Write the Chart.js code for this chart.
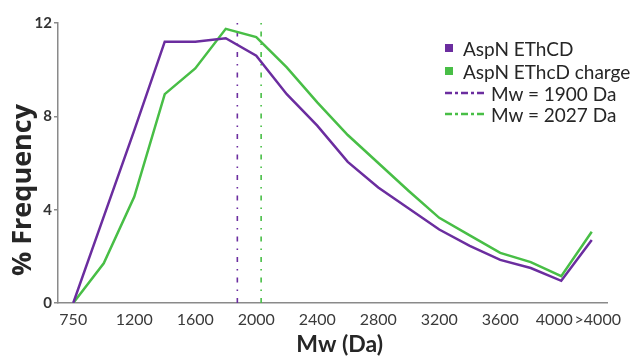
<!DOCTYPE html>
<html>
<head>
<meta charset="utf-8">
<script src="https://cdn.jsdelivr.net/npm/chart.js@4/dist/chart.umd.min.js"></script>
<style>
  body { margin: 0; background: #fff; }
  #wrap { position: relative; width: 636px; height: 358px; }
  #legend { position: absolute; left: 0; top: 0; font-family: Lato, sans-serif; font-size: 19px; color: #262626; }
  .row { position: absolute; white-space: nowrap; display: flex; align-items: center; height: 22px; }
  .sq { width: 8px; height: 8px; display: inline-block; margin-right: 10px; }
</style>
</head>
<body>
<div id="wrap">
  <canvas id="chart" width="636" height="358"></canvas>
  <div id="legend"></div>
</div>
<script>
const CATEGORIES = ['750','1000','1200','1400','1600','1800','2000','2200','2400','2600','2800','3000','3200','3400','3600','3800','4000','>4000'];
const ETHCD = [0, 3.7, 7.4, 11.2, 11.2, 11.35, 10.6, 8.95, 7.6, 6.05, 4.95, 4.05, 3.15, 2.45, 1.85, 1.5, 0.95, 2.7];
const ETHCD_CHARGE = [0, 1.7, 4.55, 8.95, 10.05, 11.75, 11.4, 10.1, 8.6, 7.2, 6.0, 4.8, 3.65, 2.9, 2.15, 1.75, 1.15, 3.05];
const SERIES_NAMES = ['AspN EThCD', 'AspN EThcD charge'];
const MW_VALUES = [1900, 2027];
// where the Mw lines sit, in category-index units
const MW_POS = [5.38, 6.16];
const Y_TICKS = [0, 4, 8, 12];

const PURPLE = '#6b2d9f';
const GREEN = '#48be46';
const FONT = 'Lato, sans-serif';

function vline(pos, color) {
  return {
    type: 'line', xAxisID: 'xv',
    data: [{ x: pos, y: 0 }, { x: pos, y: 12.26 }],
    borderColor: color, borderWidth: 1.6, borderDash: [5, 7, 1.5, 7],
    pointRadius: 0, clip: false, order: 3,
  };
}

new Chart(document.getElementById('chart'), {
  type: 'line',
  data: {
    labels: CATEGORIES,
    datasets: [
      vline(MW_POS[0], PURPLE),
      vline(MW_POS[1], GREEN),
      { label: SERIES_NAMES[1], data: ETHCD_CHARGE, borderColor: GREEN, borderWidth: 2.5, pointRadius: 0, tension: 0, order: 2 },
      { label: SERIES_NAMES[0], data: ETHCD, borderColor: PURPLE, borderWidth: 2.5, pointRadius: 0, tension: 0, order: 1 },
    ],
  },
  options: {
    responsive: false,
    animation: false,
    layout: { padding: { top: 23, right: 29, bottom: 0, left: 0 } },
    plugins: { legend: { display: false }, tooltip: { enabled: false } },
    scales: {
      x: {
        type: 'category',
        offset: true,
        grid: { display: false, drawTicks: false },
        border: { color: '#8a8a8a', width: 1.5 },
        ticks: {
          autoSkip: false, maxRotation: 0, padding: 7,
          color: '#3a3a3a', font: { family: FONT, size: 16 },
          callback: (v, i) => {
            if (i === CATEGORIES.length - 1) return '\u2003' + CATEGORIES[i];
            if (i === CATEGORIES.length - 2) return CATEGORIES[i] + '\u2003\u2009';
            return i % 2 === 0 ? CATEGORIES[i] : '';
          },
        },
        title: { display: true, text: '\u2002\u2009Mw (Da)', color: '#262626', font: { family: FONT, size: 23, weight: 'bold' }, padding: { top: 0, bottom: 0 } },
        afterFit: s => { s.height = 55; },
      },
      xv: { type: 'linear', display: false, min: -0.5, max: CATEGORIES.length - 0.5 },
      y: {
        min: 0, max: 12,
        afterBuildTicks: s => { s.ticks = Y_TICKS.map(v => ({ value: v })); },
        grid: { display: true, drawOnChartArea: false, drawTicks: true, tickLength: 4, color: '#8a8a8a', lineWidth: 1.5 },
        border: { color: '#8a8a8a', width: 1.5 },
        ticks: { padding: 2, color: '#333', font: { family: FONT, size: 15, weight: 'bold' } },
        title: { display: true, text: '% Frequency\u2003\u2003', color: '#262626', font: { family: '"Open Sans", sans-serif', size: 27, weight: 'bold' }, padding: { top: 7, bottom: 0 } },
        afterFit: s => { s.width = 58; },
      },
    },
  },
});

// legend drawn as html over the plot area
const legend = document.getElementById('legend');
const rows = [
  { kind: 'sq', color: PURPLE, text: SERIES_NAMES[0], y: 48 },
  { kind: 'sq', color: GREEN, text: SERIES_NAMES[1], y: 71 },
  { kind: 'dash', color: PURPLE, text: 'Mw = ' + MW_VALUES[0] + ' Da', y: 93 },
  { kind: 'dash', color: GREEN, text: 'Mw = ' + MW_VALUES[1] + ' Da', y: 114 },
];
rows.forEach(r => {
  const div = document.createElement('div');
  div.className = 'row';
  div.style.top = (r.y - 11) + 'px';
  div.style.left = '445px';
  if (r.kind === 'sq') {
    div.innerHTML = `<span class="sq" style="background:${r.color}"></span><span>${r.text}</span>`;
  } else {
    div.innerHTML = `<svg width="40" height="6" style="margin-right:6px"><line x1="0" y1="3" x2="40" y2="3" stroke="${r.color}" stroke-width="2.5" stroke-dasharray="7 3 3 3"/></svg><span>${r.text}</span>`;
  }
  legend.appendChild(div);
});
</script>
</body>
</html>
